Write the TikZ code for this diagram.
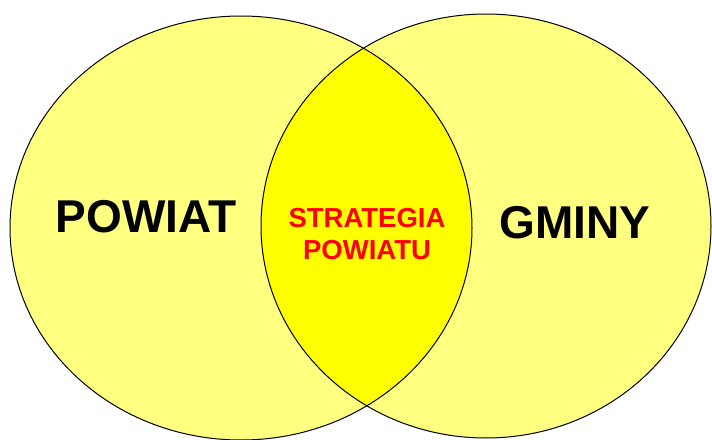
\documentclass[tikz,border=0pt]{standalone}
\usepackage{fontspec}
\setmainfont{Liberation Sans}
\definecolor{paleyel}{RGB}{255,255,128}
\definecolor{lensyel}{RGB}{255,255,0}
\begin{document}
\begin{tikzpicture}[x=1pt,y=-1pt,
  setlabel/.style={inner sep=0pt, font=\fontsize{46}{50}\selectfont\bfseries, text=black},
  lenslabel/.style={inner sep=0pt, align=center, font=\fontsize{27.5}{31.5}\selectfont\bfseries, text=red},
  outline/.style={draw=black, line width=1pt}]
\useasboundingbox (0,0) rectangle (712,439);
\def\leftell{(241,228) ellipse [x radius=231pt, y radius=212pt]}
\def\rightell{(486,226) ellipse [x radius=225pt, y radius=212pt]}
\fill[paleyel] \leftell;
\fill[paleyel] \rightell;
\begin{scope}
  \clip \leftell;
  \fill[lensyel] \rightell;
\end{scope}
\draw[outline] \leftell;
\draw[outline] \rightell;
\node[setlabel] (powiat) at (146,217) {POWIAT};
\node[setlabel] (gminy) at (575,223) {GMINY};
\node[lenslabel] (strategia) at (367,234) {STRATEGIA\\POWIATU};
\end{tikzpicture}
\end{document}
